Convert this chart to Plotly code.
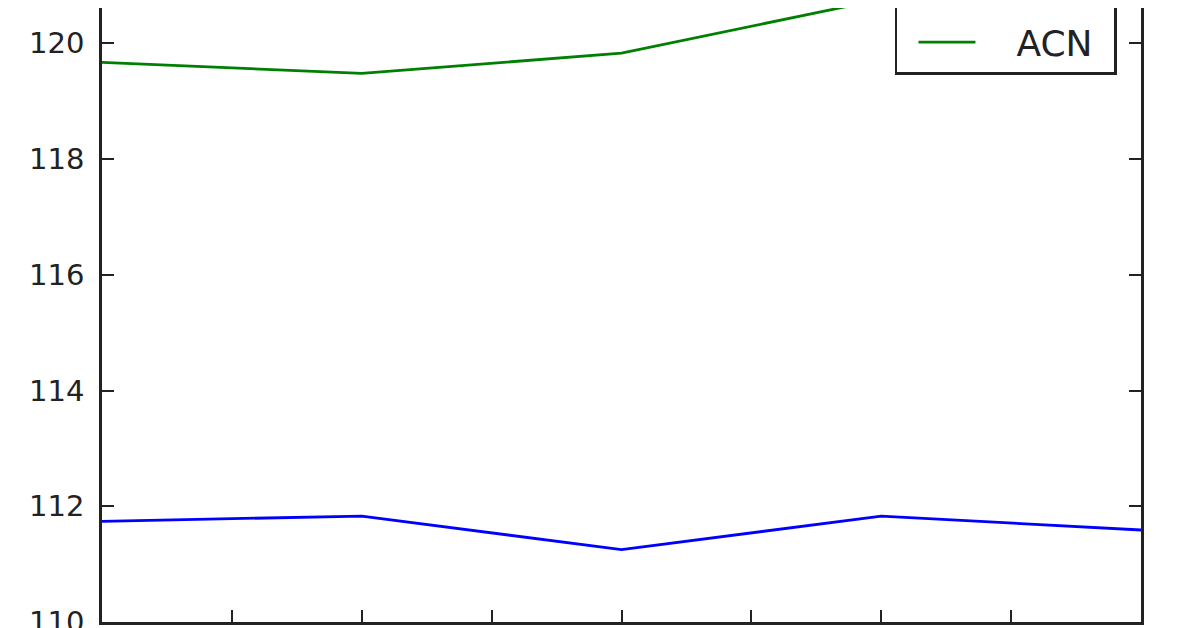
import plotly.graph_objects as go     #pip install plotly

#day index along the x axis (tick labels are cut off below the picture)
days = [0, 1, 2, 3, 4]

#closing prices
aaplPrices = [111.74, 111.83, 111.25, 111.83, 111.59]
acnPrices = [119.67, 119.48, 119.83, 120.76, 121.40]

seriesNames = ["AAPL", "ACN"]
seriesColors = ["#0000ff", "#008000"]

yTicks = [110, 112, 114, 116, 118, 120, 122]
xTicks = [0, 0.5, 1, 1.5, 2, 2.5, 3, 3.5, 4]


def createLinePlot():
    '''
    Builds the two price lines in an old matplotlib look:
    black frame, ticks pointing inwards, boxed legend top right.
    The page body adds an 8px margin, so the figure is 8px smaller each way.
    '''
    fig = go.Figure()
    for i, prices in enumerate([aaplPrices, acnPrices]):
        fig.add_trace(go.Scatter(x=days, y=prices, mode="lines",
                                 name="\u2003" + seriesNames[i], #gap between handle and label
                                 legendgroup=seriesNames[i],
                                 line=dict(color=seriesColors[i], width=2.8)))

    fig.update_layout(
        width=1188, height=620,
        margin=dict(l=94, r=55, t=0, b=6, autoexpand=False),
        plot_bgcolor="white", paper_bgcolor="white",
        font=dict(family="DejaVu Sans", color="#222222"),
        showlegend=True,
        legend=dict(x=0.7632, y=0.8909, xanchor="left", yanchor="bottom",
                    bgcolor="white", bordercolor="#222222", borderwidth=2.5,
                    font=dict(size=36), itemwidth=57, indentation=16,
                    tracegroupgap=22, traceorder="grouped"),
    )
    fig.update_xaxes(range=[0, 4], tickvals=xTicks, showticklabels=False,
                     ticks="inside", ticklen=12, tickwidth=1.5, tickcolor="#222222",
                     showline=True, linecolor="#222222", linewidth=2.5,
                     showgrid=False, zeroline=False, automargin=False)
    #let the bottom "110" label run off the page like in the cropped original
    fig.update_yaxes(range=[110, 120.61], tickvals=yTicks,
                     ticks="inside", ticklen=12, tickwidth=1.5, tickcolor="#222222",
                     tickfont=dict(size=29), ticklabelstandoff=9, ticklabeloverflow="allow",
                     showline=True, linecolor="#222222", linewidth=2.5, mirror="ticks",
                     showgrid=False, zeroline=False, automargin=False)
    return fig


if __name__ == "__main__":
    fig = createLinePlot()
    fig.write_html("out.html")
